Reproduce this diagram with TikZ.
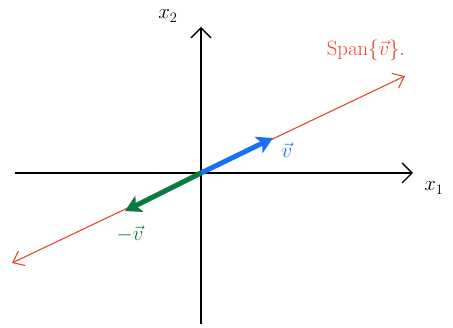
\documentclass[tikz,border=0pt]{standalone}
\usetikzlibrary{arrows.meta}
\definecolor{spanred}{HTML}{E8452F}
\definecolor{vblue}{HTML}{1A70F5}
\definecolor{vgreen}{HTML}{0B7A3E}
\begin{document}
\begin{tikzpicture}[x=1pt,y=-1pt,
  axis/.style={black,line width=1.3pt,-{Straight Barb[length=10pt,width=20pt]}},
  spanline/.style={spanred,line width=1.1pt,{Straight Barb[length=10pt,width=16pt]}-{Straight Barb[length=10pt,width=16pt]}},
  vec/.style={line width=5pt,-{Stealth[length=16pt,width=18pt,inset=4pt]}},
  lab/.style={inner sep=0pt,font=\fontsize{21}{24}\selectfont}]
\useasboundingbox (0,0) rectangle (453,328);
\coordinate (O) at (201,173);
\coordinate (xl) at (15,173);
\coordinate (xr) at (413,173);
\coordinate (yb) at (201,324);
\coordinate (yt) at (201,27);
\coordinate (sa) at (12,263);
\coordinate (sb) at (405,76);
\coordinate (vp) at (273,138);
\coordinate (vm) at (125,211);
\draw[axis] (xl) -- (xr);
\draw[axis] (yb) -- (yt);
\draw[spanline] (sa) -- (sb);
\draw[vec,vblue] (O) -- (vp);
\draw[vec,vgreen] (O) -- (vm);
\node[lab] (x2) at (168,16) {$x_2$};
\node[lab] (x1) at (434,188) {$x_1$};
\node[lab,spanred] (span) at (366,50) {$\mathrm{Span}\{\vec v\}.$};
\node[lab,vblue] (vl) at (287,150) {$\vec v$};
\node[lab,vgreen] (ml) at (130,234) {$-\vec v$};
\end{tikzpicture}
\end{document}
